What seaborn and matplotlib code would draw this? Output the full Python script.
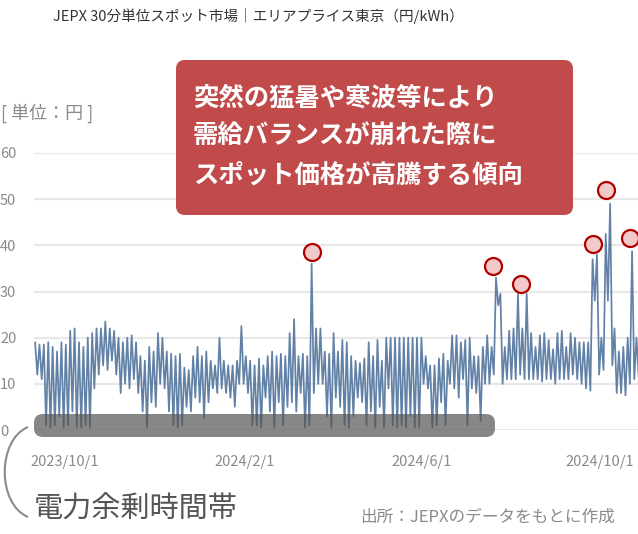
import numpy as np
import pandas as pd
import matplotlib
matplotlib.use("Agg")
import matplotlib.pyplot as plt
import seaborn as sns
from matplotlib.patches import FancyBboxPatch, PathPatch
from matplotlib.path import Path
from matplotlib.transforms import IdentityTransform

# ---------------- data ----------------
start_date = "2023-09-10"
period_days = 3  # each period contributes a high and a low value

highs = [19, 18.5, 18.5, 19, 18, 17, 19, 18.5, 21.5, 22, 19, 18, 20, 21, 22, 22, 23.5, 22, 21.5, 20,
         19, 20, 20.5, 19, 16, 15, 18, 17,
         21, 20, 17, 16.5, 16, 16.5, 13.5, 13, 16, 18, 16, 17, 15, 14, 20, 15, 14, 14, 15, 22.5,
         16, 15, 14, 15.5, 14, 16, 17,
         16, 16.5, 16, 21, 24, 16, 16.5, 16, 36, 22, 22, 17, 16.5, 21, 17, 19.5, 19, 16, 15, 14.5,
         15.5, 19, 16, 19.5, 15, 20, 20, 20,
         20, 20, 20, 20, 20, 20, 16, 14, 14, 15.5, 16.5, 15, 20.5, 20.5, 19, 19.5, 20, 16, 16, 18,
         20.5, 18, 33, 29.5, 18, 21.5, 22,
         29.5, 22, 29.5, 21, 18, 20.5, 21, 19.5, 17.5, 21, 21.5, 18, 21, 20, 19, 19, 19, 37, 38, 20,
         42.5, 49, 22, 17, 18, 20, 38.7, 20]
lows = [12, 11, 1, 0.5, 1, 3, 0.5, 1, 4, 0.5, 0.5, 1, 0.5, 9, 12, 14, 13, 15, 12, 8,
        10, 9, 11, 8, 4, 0.5, 6, 5,
        10, 9, 4, 1, 0.5, 1, 5, 4, 7, 6, 2.5, 6, 9, 8, 9, 8, 7, 5, 10, 10,
        8, 1, 1, 0.5, 7, 4, 0.5,
        6, 1, 5, 6, 4, 8, 0.5, 1, 8, 10, 10, 3, 0.5, 7, 5, 1, 0.5, 3, 7, 6,
        1, 4, 0.5, 5, 0.5, 9, 1, 0.5,
        1, 0.5, 3, 0.5, 0.5, 10, 9, 0.5, 1, 6, 1, 10, 9, 7, 11, 1, 9, 8, 2, 10,
        10, 12, 27, 10, 11, 11, 11,
        12, 11, 11, 11, 11, 10.5, 11, 11, 10, 11, 11, 11, 12, 11, 10, 9, 8.5, 28, 12, 13,
        28, 14, 8, 8, 7.5, 10, 11, 11.5]

peak_dates = ["2024-03-18", "2024-07-20", "2024-08-08", "2024-09-26", "2024-10-05", "2024-10-21"]
peak_values = [38.6, 35.5, 31.6, 40.3, 52.0, 41.6]

yticks = [0, 10, 20, 30, 40, 50, 60]
xtick_dates = ["2023-10-01", "2024-02-01", "2024-06-01", "2024-10-01"]
xtick_labels = ["2023/10/1", "2024/2/1", "2024/6/1", "2024/10/1"]

title = "JEPX 30分単位スポット市場｜エリアプライス東京（円/kWh）"
unit_label = "[ 単位：円 ]"
note_lines = ["突然の猛暑や寒波等により", "需給バランスが崩れた際に", "スポット価格が高騰する傾向"]
surplus_label = "電力余剰時間帯"
source_label = "出所：JEPXのデータをもとに作成"

# ---------------- build table ----------------
t0 = pd.Timestamp(start_date)
times, values = [], []
for i, (h, l) in enumerate(zip(highs, lows)):
    base = t0 + pd.Timedelta(days=period_days * i)
    times.append(base + pd.Timedelta(hours=18))
    values.append(h)
    times.append(base + pd.Timedelta(hours=54))
    values.append(l)
df = pd.DataFrame({"time": times, "price": values})
peaks = pd.DataFrame({"time": pd.to_datetime(peak_dates), "price": peak_values})

# ---------------- style ----------------
sns.set_theme(style="white")
plt.rcParams["font.family"] = ["Noto Sans CJK JP", "DejaVu Sans"]

W, H = 638, 534
fig = plt.figure(figsize=(W / 100, H / 100), dpi=100)
ax = fig.add_axes([34 / W, (H - 430) / H, (W - 34) / W, 277 / H])

sns.lineplot(data=df, x="time", y="price", ax=ax, color="#6281a6", linewidth=1.25,
             estimator=None, sort=False)
sns.scatterplot(data=peaks, x="time", y="price", ax=ax, s=150, color="#f2c9c9",
                edgecolor="#b20000", linewidth=1.6, zorder=5, clip_on=False)

ax.set_xlim(t0, t0 + pd.Timedelta(days=412.8))
ax.set_ylim(0, 60)
ax.set_yticks(yticks)
ax.set_yticklabels([str(v) for v in yticks])
ax.set_xticks(pd.to_datetime(xtick_dates))
ax.set_xticklabels(xtick_labels)
ax.set_xlabel("")
ax.set_ylabel("")
for s in ax.spines.values():
    s.set_visible(False)
ax.yaxis.grid(True, color="#e8e8e8", linewidth=1.6)
ax.xaxis.grid(False)
ax.set_axisbelow(True)
ax.tick_params(axis="y", length=0, pad=24.5, labelsize=10.5, labelcolor="#8a8a8a")
for lab in ax.get_yticklabels():
    lab.set_horizontalalignment("left")
ax.tick_params(axis="x", length=0, pad=18, labelsize=10.5, labelcolor="#8a8a8a")

# ---------------- decorations (pixel coordinates) ----------------
idt = IdentityTransform()

def fy(y_top):
    return H - y_top

# surplus band
fig.add_artist(FancyBboxPatch((34, fy(437)), 461, 23,
                              boxstyle="round,pad=0,rounding_size=9",
                              facecolor="#555555", alpha=0.7, edgecolor="none",
                              transform=idt, zorder=3))
# bracket curve
verts = [(28, fy(427)), (-3, fy(440)), (-3, fy(504)), (28, fy(517))]
codes = [Path.MOVETO, Path.CURVE4, Path.CURVE4, Path.CURVE4]
fig.add_artist(PathPatch(Path(verts, codes), facecolor="none", edgecolor="#8a8a8a",
                         linewidth=1.5, transform=idt, zorder=3))
fig.text(34 / W, fy(510) / H, surplus_label, fontsize=21, color="#555555",
         ha="left", va="center")

# red note box
fig.add_artist(FancyBboxPatch((176, fy(215)), 397, 155,
                              boxstyle="round,pad=0,rounding_size=9",
                              facecolor="#c14b4b", edgecolor="none",
                              transform=idt, zorder=4))
for k, line in enumerate(note_lines):
    fig.text(193 / W, fy(98 + 38.5 * k) / H, line, fontsize=18.3, color="white",
             fontweight="bold", ha="left", va="center", zorder=6)

# titles
fig.text(258 / W, fy(16) / H, title, fontsize=10.5, color="#333333", ha="center", va="center")
fig.text(1 / W, fy(113) / H, unit_label, fontsize=13, color="#8a8a8a", ha="left", va="center")
fig.text(615 / W, fy(517) / H, source_label, fontsize=12, color="#8a8a8a", ha="right", va="center")

fig.savefig("out.png", dpi=100)
